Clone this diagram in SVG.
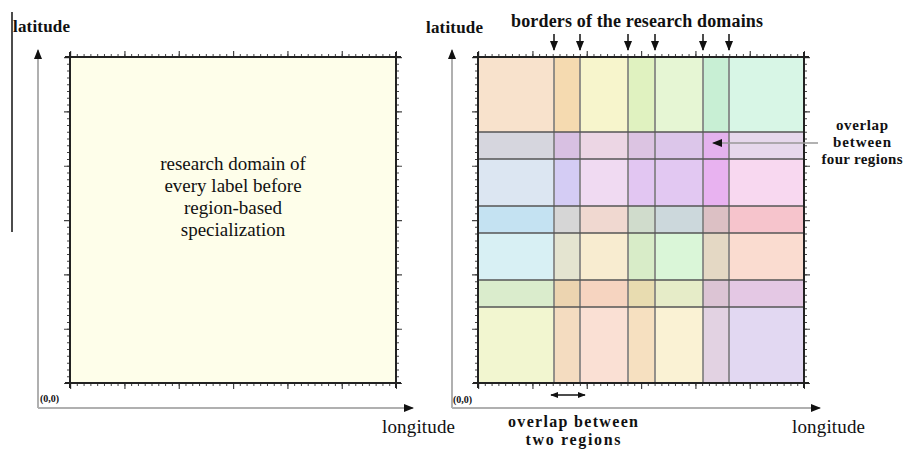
<svg xmlns="http://www.w3.org/2000/svg" width="917" height="449" viewBox="0 0 917 449">
<style>
text{font-family:"Liberation Serif","Times New Roman",serif;fill:#111}
.b{font-weight:bold}
.ax{stroke:#b0b0b0;stroke-width:2;fill:none}
.frame{stroke:#222;stroke-width:2;fill:none}
.tmin{stroke:#444;stroke-width:3;stroke-dasharray:1 5.7917;fill:none}
.tmaj{stroke:#444;stroke-width:6;stroke-dasharray:1.2 53.133;fill:none}
.gv{stroke:#7a7a7a;stroke-width:1.6;fill:none}
.gh{stroke:#555;stroke-width:1.6;fill:none}
.ptr{stroke:#999;stroke-width:1.5;fill:none}
.blk{stroke:#111;stroke-width:1.5;fill:none}
</style>
<defs>
<marker id="ah" viewBox="0 0 10 10" refX="9" refY="5" markerWidth="10" markerHeight="10" markerUnits="userSpaceOnUse" orient="auto"><path d="M0,1 L10,5 L0,9 Z" fill="#111"/></marker>
<marker id="ahs" viewBox="0 0 10 10" refX="9" refY="5" markerWidth="8" markerHeight="8" markerUnits="userSpaceOnUse" orient="auto-start-reverse"><path d="M0,1 L10,5 L0,9 Z" fill="#111"/></marker>
</defs>
<rect width="917" height="449" fill="#fff"/>
<line x1="12" y1="12" x2="12" y2="232" stroke="#111" stroke-width="1.5"/>

<g id="left-panel">
<path class="ax" d="M38,408 V50" marker-end="url(#ah)"/>
<path class="ax" d="M38,408 H413" marker-end="url(#ah)"/>
<text class="b" x="13" y="32" font-size="17" textLength="57">latitude</text>
<text x="382" y="433" font-size="19" textLength="73">longitude</text>
<text class="b" x="40" y="402" font-size="10">(0,0)</text>
<rect x="70" y="57" width="326" height="326" fill="#fefeea"/>
<path class="tmin" d="M70,55.5 H396 M70,384.5 H396 M68.5,57 V383 M397.5,57 V383"/>
<path class="tmaj" d="M70,54 H397 M70,386 H397 M67,57 V384 M399,57 V384"/>
<path class="frame" d="M65,57 H401 M65,383 H401 M70,52 V388 M396,52 V388"/>
<text font-size="19" text-anchor="middle"><tspan x="233" y="170">research domain of</tspan><tspan x="233" y="192">every label before</tspan><tspan x="233" y="214">region-based</tspan><tspan x="233" y="236">specialization</tspan></text>
</g>

<g id="right-panel">
<path class="ax" d="M452,408 V50" marker-end="url(#ah)"/>
<path class="ax" d="M452,408 H820" marker-end="url(#ah)"/>
<text class="b" x="426" y="33" font-size="17" textLength="57">latitude</text>
<text x="792" y="433" font-size="19" textLength="73">longitude</text>
<text class="b" x="453" y="403" font-size="10">(0,0)</text>
<g id="grid-cells">
<rect x="478" y="57" width="76" height="75" fill="#f8e2cc"/>
<rect x="554" y="57" width="26" height="75" fill="#f5dab0"/>
<rect x="580" y="57" width="48" height="75" fill="#f7f5cc"/>
<rect x="628" y="57" width="27" height="75" fill="#e0f2c0"/>
<rect x="655" y="57" width="48" height="75" fill="#e6f6d4"/>
<rect x="703" y="57" width="26" height="75" fill="#c8efd4"/>
<rect x="729" y="57" width="75" height="75" fill="#d8f6e6"/>

<rect x="478" y="132" width="76" height="27" fill="#d6d6de"/>
<rect x="554" y="132" width="26" height="27" fill="#d8c0e2"/>
<rect x="580" y="132" width="48" height="27" fill="#ecd6e4"/>
<rect x="628" y="132" width="27" height="27" fill="#dcc4e2"/>
<rect x="655" y="132" width="48" height="27" fill="#dcc6ea"/>
<rect x="703" y="132" width="26" height="27" fill="#e4b2ee"/>
<rect x="729" y="132" width="75" height="27" fill="#e6d8ec"/>

<rect x="478" y="159" width="76" height="47" fill="#dce6f2"/>
<rect x="554" y="159" width="26" height="47" fill="#d4ccf4"/>
<rect x="580" y="159" width="48" height="47" fill="#f0daf2"/>
<rect x="628" y="159" width="27" height="47" fill="#e2c6f2"/>
<rect x="655" y="159" width="48" height="47" fill="#e2c8f2"/>
<rect x="703" y="159" width="26" height="47" fill="#e8b2f0"/>
<rect x="729" y="159" width="75" height="47" fill="#f8d8f0"/>

<rect x="478" y="206" width="76" height="27" fill="#c4e2f2"/>
<rect x="554" y="206" width="26" height="27" fill="#d6d6d6"/>
<rect x="580" y="206" width="48" height="27" fill="#f0d8d0"/>
<rect x="628" y="206" width="27" height="27" fill="#d0dccc"/>
<rect x="655" y="206" width="48" height="27" fill="#ccd8dc"/>
<rect x="703" y="206" width="26" height="27" fill="#dcc0c4"/>
<rect x="729" y="206" width="75" height="27" fill="#f6c4cc"/>

<rect x="478" y="233" width="76" height="47" fill="#d8f0f4"/>
<rect x="554" y="233" width="26" height="47" fill="#e4e4d0"/>
<rect x="580" y="233" width="48" height="47" fill="#f8ecd0"/>
<rect x="628" y="233" width="27" height="47" fill="#d8ecc8"/>
<rect x="655" y="233" width="48" height="47" fill="#daf6d8"/>
<rect x="703" y="233" width="26" height="47" fill="#e4d8c4"/>
<rect x="729" y="233" width="75" height="47" fill="#fadcd0"/>

<rect x="478" y="280" width="76" height="27" fill="#daeccc"/>
<rect x="554" y="280" width="26" height="27" fill="#ecd4b0"/>
<rect x="580" y="280" width="48" height="27" fill="#f6d4c0"/>
<rect x="628" y="280" width="27" height="27" fill="#e8dcb0"/>
<rect x="655" y="280" width="48" height="27" fill="#e6ecc8"/>
<rect x="703" y="280" width="26" height="27" fill="#dcc4d4"/>
<rect x="729" y="280" width="75" height="27" fill="#e4c8e4"/>

<rect x="478" y="307" width="76" height="76" fill="#f2f6d0"/>
<rect x="554" y="307" width="26" height="76" fill="#f4dcc0"/>
<rect x="580" y="307" width="48" height="76" fill="#fae0d4"/>
<rect x="628" y="307" width="27" height="76" fill="#f6e0c0"/>
<rect x="655" y="307" width="48" height="76" fill="#faf2d4"/>
<rect x="703" y="307" width="26" height="76" fill="#e2d2e2"/>
<rect x="729" y="307" width="75" height="76" fill="#e2d8f2"/>
</g>
<path class="gv" d="M554,57 V383 M580,57 V383 M628,57 V383 M655,57 V383 M703,57 V383 M729,57 V383"/>
<path class="gh" d="M478,132 H804 M478,159 H804 M478,206 H804 M478,233 H804 M478,280 H804 M478,307 H804"/>
<path class="tmin" d="M478,55.5 H804 M478,384.5 H804 M476.5,57 V383 M805.5,57 V383"/>
<path class="tmaj" d="M478,54 H805 M478,386 H805 M475,57 V384 M807,57 V384"/>
<path class="frame" d="M473,57 H809 M473,383 H809 M478,52 V388 M804,52 V388"/>
</g>

<g id="connectors">
<path class="blk" d="M554,34 V50" marker-end="url(#ah)"/>
<path class="blk" d="M580,34 V50" marker-end="url(#ah)"/>
<path class="blk" d="M628,34 V50" marker-end="url(#ah)"/>
<path class="blk" d="M655,34 V50" marker-end="url(#ah)"/>
<path class="blk" d="M703,34 V50" marker-end="url(#ah)"/>
<path class="blk" d="M729,34 V50" marker-end="url(#ah)"/>
<path class="ptr" d="M818,143 H713" marker-end="url(#ah)"/>
<path class="blk" d="M551,395 H585" marker-start="url(#ahs)" marker-end="url(#ahs)"/>
</g>

<g id="labels">
<text class="b" x="511" y="27" font-size="18" textLength="252">borders of the research domains</text>
<text class="b" font-size="15" text-anchor="middle"><tspan x="862" y="130" textLength="52">overlap</tspan><tspan x="862" y="147" textLength="58">between</tspan><tspan x="862" y="164" textLength="81">four regions</tspan></text>
<text class="b" font-size="16" text-anchor="middle"><tspan x="573" y="427" textLength="130">overlap between</tspan><tspan x="573" y="445" textLength="95">two regions</tspan></text>
</g>
</svg>
